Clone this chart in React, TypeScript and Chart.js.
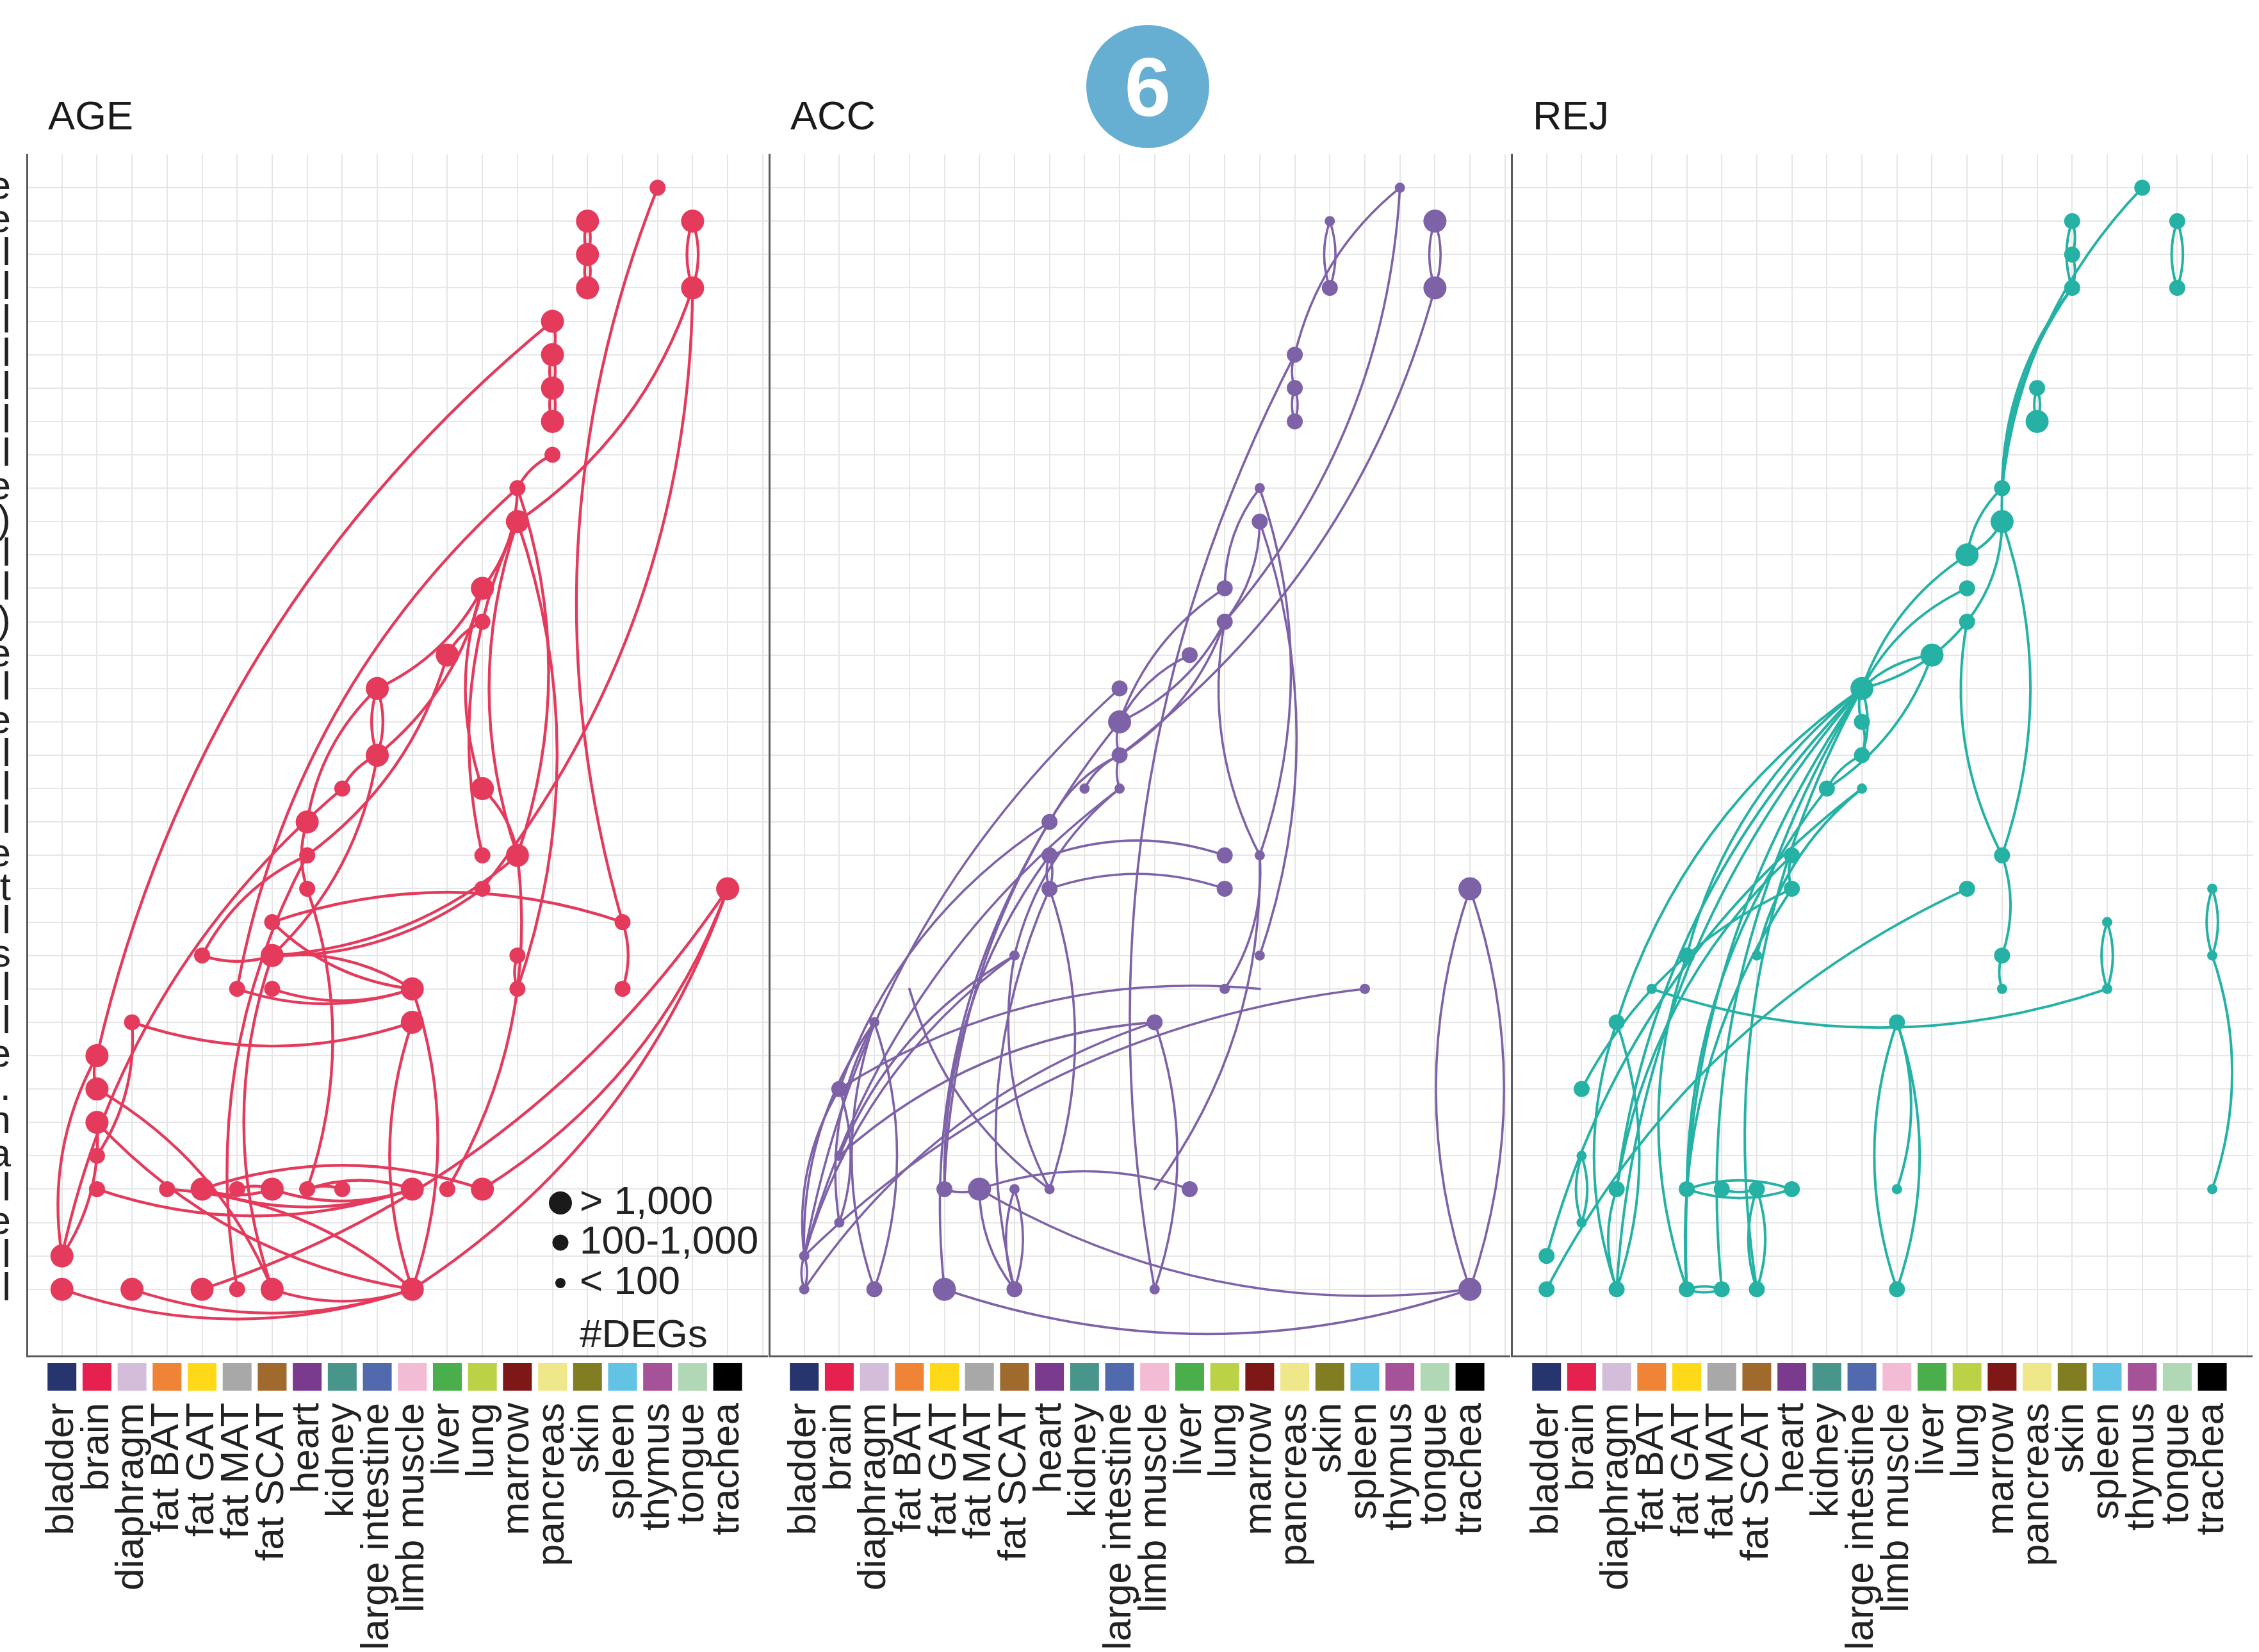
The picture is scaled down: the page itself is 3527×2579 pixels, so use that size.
import React, { useEffect, useRef } from 'react';
import { Chart, registerables } from 'chart.js';

Chart.register(...registerables);

const FONT = '"Liberation Sans", Arial, Helvetica, sans-serif';

// ---------------- data ----------------
const TISSUES = [
  'bladder', 'brain', 'diaphragm', 'fat BAT', 'fat GAT', 'fat MAT', 'fat SCAT', 'heart', 'kidney',
  'large intestine', 'limb muscle', 'liver', 'lung', 'marrow', 'pancreas', 'skin', 'spleen', 'thymus',
  'tongue', 'trachea',
];
const TISSUE_COLORS = [
  '#27356F', '#E6214F', '#D3BDDA', '#EF8336', '#FFD818', '#A8A8A8', '#A06A2C', '#7A3A8E', '#48958B',
  '#5169AD', '#F4BBD4', '#4AAE4A', '#BBD247', '#7E1817', '#F0E68A', '#807D22', '#62C3E5', '#A65298',
  '#B1D8B5', '#000000',
];
// visible (clipped) ends of the row labels, top row first
const ROW_LABELS = [
  'e', 'e', 'l', 'l', 'l', 'l', 'l', 'l', 'l', 'e', ')', 'l', 'l', ')', 'e', 'l', 'e',
  'l', 'l', 'l', 'e', 't', 'l', 's', 'l', 'l', 'e', '.', 'n', 'a', 'l', 'e', 'l', 'l',
];
const PANEL_TITLES = ['AGE', 'ACC', 'REJ'];
const SIZE_LABELS = ['> 1,000', '100-1,000', '< 100'];
const SIZE_TITLE = '#DEGs';
const BADGE = '6';

// node: [tissue index, row (0 = top), size class 0 <100, 1 100-1000, 2 >1000, 3 no dot]
type Node = [number, number, number];
// edge: [tissue, row, tissue, row, side the arc bows to]
type Edge = [number, number, number, number, string];

const AGE_NODES: Node[] = [
  [17, 0, 1], [15, 1, 2], [15, 2, 2], [15, 3, 2], [18, 1, 2], [18, 3, 2],
  [14, 4, 2], [14, 5, 2], [14, 6, 2], [14, 7, 2], [14, 8, 1],
  [13, 9, 1], [13, 10, 2], [12, 12, 2], [12, 13, 1], [11, 14, 2],
  [9, 15, 2], [9, 17, 2], [8, 18, 1], [12, 18, 2],
  [7, 19, 2], [7, 20, 1], [12, 20, 1], [13, 20, 2],
  [7, 21, 1], [12, 21, 1], [19, 21, 2], [6, 22, 1], [16, 22, 1],
  [4, 23, 1], [6, 23, 2], [13, 23, 1],
  [5, 24, 1], [6, 24, 1], [10, 24, 2], [13, 24, 1], [16, 24, 1],
  [2, 25, 1], [10, 25, 2], [1, 26, 2], [1, 27, 2], [1, 28, 2], [1, 29, 1],
  [1, 30, 1], [3, 30, 1], [4, 30, 2], [5, 30, 1], [6, 30, 2], [7, 30, 1], [8, 30, 1],
  [10, 30, 2], [11, 30, 1], [12, 30, 2],
  [0, 32, 2], [0, 33, 2], [2, 33, 2], [4, 33, 2], [5, 33, 1], [6, 33, 2], [10, 33, 2],
];
const AGE_EDGES: Edge[] = [
  [17, 0, 16, 22, 'L'],
  [15, 1, 15, 2, 'L'], [15, 1, 15, 2, 'R'], [15, 2, 15, 3, 'L'], [15, 2, 15, 3, 'R'],
  [18, 1, 18, 3, 'L'], [18, 1, 18, 3, 'R'],
  [18, 3, 13, 10, 'R'], [18, 3, 12, 21, 'R'],
  [14, 4, 14, 5, 'R'], [14, 5, 14, 6, 'L'], [14, 5, 14, 6, 'R'], [14, 6, 14, 7, 'L'], [14, 6, 14, 7, 'R'],
  [14, 4, 1, 26, 'U'], [13, 10, 13, 24, 'R'],
  [14, 8, 13, 9, 'U'], [13, 9, 5, 24, 'U'], [13, 9, 12, 12, 'R'],
  [13, 9, 13, 20, 'R'], [13, 10, 13, 20, 'L'],
  [12, 12, 12, 18, 'L'], [12, 12, 9, 17, 'R'], [9, 15, 12, 12, 'D'], [11, 14, 12, 13, 'U'],
  [9, 15, 9, 17, 'L'], [9, 15, 9, 17, 'R'], [9, 17, 8, 18, 'U'],
  [11, 14, 7, 20, 'R'], [7, 19, 7, 21, 'L'], [9, 15, 7, 19, 'L'], [9, 17, 6, 23, 'R'],
  [12, 18, 13, 20, 'R'], [13, 20, 6, 23, 'D'], [12, 21, 6, 23, 'D'], [12, 20, 13, 10, 'L'],
  [13, 23, 13, 24, 'L'], [6, 22, 16, 22, 'U'], [16, 22, 16, 24, 'R'],
  [6, 22, 10, 24, 'D'], [6, 23, 10, 24, 'U'], [5, 24, 10, 24, 'D'], [6, 24, 10, 24, 'D'],
  [4, 23, 6, 23, 'D'], [7, 20, 4, 23, 'U'], [2, 25, 10, 25, 'D'],
  [10, 25, 10, 33, 'L'], [10, 24, 10, 33, 'R'], [7, 21, 7, 30, 'R'], [6, 23, 6, 33, 'L'],
  [19, 21, 4, 33, 'D'], [19, 21, 10, 33, 'D'], [19, 21, 12, 30, 'R'],
  [0, 33, 10, 33, 'D'], [2, 33, 10, 33, 'D'], [6, 33, 10, 33, 'D'],
  [1, 30, 10, 30, 'D'], [4, 30, 10, 30, 'D'], [4, 30, 12, 30, 'U'], [4, 30, 6, 30, 'D'],
  [6, 30, 10, 30, 'D'], [7, 30, 10, 30, 'U'], [7, 30, 8, 30, 'U'], [5, 30, 6, 30, 'U'],
  [1, 28, 10, 33, 'D'], [3, 30, 10, 33, 'U'], [5, 33, 7, 20, 'L'],
  [0, 32, 1, 26, 'L'], [0, 32, 1, 28, 'R'], [0, 32, 8, 18, 'U'],
  [1, 26, 1, 27, 'L'], [1, 27, 6, 33, 'R'], [1, 29, 2, 25, 'R'], [13, 20, 11, 30, 'R'],
];

const ACC_NODES: Node[] = [
  [17, 0, 0], [15, 1, 0], [15, 3, 1], [18, 1, 2], [18, 3, 2],
  [14, 5, 1], [14, 6, 1], [14, 7, 1], [13, 9, 0], [13, 10, 1],
  [12, 12, 1], [12, 13, 1], [11, 14, 1],
  [9, 15, 1], [9, 16, 2], [9, 17, 1], [9, 18, 0], [8, 18, 0],
  [7, 19, 1], [7, 20, 1], [7, 21, 1], [12, 20, 1], [12, 21, 1],
  [13, 20, 0], [13, 23, 0], [6, 23, 0], [12, 24, 0], [16, 24, 0], [13, 24, 3],
  [3, 24, 3], [2, 25, 0], [10, 25, 1],
  [1, 27, 1], [1, 29, 0], [1, 31, 0],
  [4, 30, 1], [5, 30, 2], [6, 30, 0], [7, 30, 0], [10, 30, 3], [11, 30, 1],
  [0, 32, 0], [0, 33, 0], [2, 33, 1], [4, 33, 2], [6, 33, 1], [10, 33, 0],
  [19, 21, 2], [19, 33, 2],
];
const ACC_EDGES: Edge[] = [
  [17, 0, 14, 5, 'U'], [14, 5, 10, 33, 'L'], [17, 0, 12, 13, 'R'], [18, 3, 9, 17, 'R'],
  [15, 1, 15, 3, 'L'], [15, 1, 15, 3, 'R'], [18, 1, 18, 3, 'L'], [18, 1, 18, 3, 'R'],
  [14, 5, 14, 6, 'L'], [14, 6, 14, 7, 'L'], [14, 6, 14, 7, 'R'],
  [13, 9, 13, 20, 'R'], [13, 10, 13, 23, 'R'], [12, 13, 13, 20, 'L'],
  [13, 20, 12, 24, 'R'], [13, 20, 10, 30, 'R'],
  [13, 9, 12, 12, 'L'], [13, 10, 12, 13, 'R'],
  [12, 12, 9, 16, 'U'], [12, 13, 9, 16, 'D'], [11, 14, 9, 16, 'U'], [12, 13, 9, 17, 'D'],
  [9, 15, 0, 32, 'U'], [9, 16, 4, 30, 'L'], [9, 16, 9, 17, 'L'], [9, 17, 9, 18, 'L'],
  [9, 17, 8, 18, 'U'], [9, 18, 0, 32, 'U'], [7, 19, 9, 17, 'U'], [7, 19, 1, 27, 'U'],
  [7, 20, 12, 20, 'U'], [7, 21, 12, 21, 'U'], [7, 20, 7, 21, 'L'], [7, 20, 7, 21, 'R'],
  [7, 21, 7, 30, 'R'], [6, 23, 7, 30, 'L'], [4, 30, 7, 20, 'L'], [7, 21, 6, 33, 'L'],
  [6, 23, 1, 29, 'U'], [6, 23, 0, 32, 'U'], [6, 23, 9, 18, 'U'], [3, 24, 7, 30, 'D'],
  [2, 25, 2, 33, 'L'], [2, 25, 2, 33, 'R'], [2, 25, 1, 31, 'L'], [1, 27, 1, 31, 'R'],
  [1, 27, 13, 24, 'U'], [1, 29, 10, 25, 'U'], [0, 32, 16, 24, 'U'],
  [0, 32, 2, 25, 'L'], [0, 32, 1, 27, 'L'], [0, 32, 0, 33, 'L'], [0, 32, 0, 33, 'R'],
  [4, 30, 5, 30, 'D'], [5, 30, 11, 30, 'U'], [5, 30, 19, 33, 'D'], [4, 33, 19, 33, 'D'],
  [5, 30, 6, 33, 'L'], [6, 30, 6, 33, 'L'], [6, 30, 6, 33, 'R'],
  [19, 21, 19, 33, 'L'], [19, 21, 19, 33, 'R'],
  [10, 25, 10, 33, 'R'], [10, 25, 0, 33, 'U'], [4, 33, 7, 19, 'L'],
];

const REJ_NODES: Node[] = [
  [17, 0, 1], [15, 1, 1], [15, 2, 1], [15, 3, 1], [18, 1, 1], [18, 3, 1],
  [14, 6, 1], [14, 7, 2], [13, 9, 1], [13, 10, 2],
  [12, 11, 2], [12, 12, 1], [12, 13, 1], [11, 14, 2],
  [9, 15, 2], [9, 16, 1], [9, 17, 1], [9, 18, 0], [8, 18, 1],
  [7, 20, 1], [7, 21, 1], [12, 21, 1], [13, 20, 1],
  [4, 23, 1], [6, 23, 0], [13, 23, 1], [13, 24, 0],
  [16, 22, 0], [16, 24, 0], [19, 21, 0], [19, 23, 0], [3, 24, 0],
  [2, 25, 1], [10, 25, 1], [1, 27, 1], [1, 29, 0], [1, 31, 0],
  [2, 30, 1], [4, 30, 1], [5, 30, 1], [6, 30, 1], [7, 30, 1], [10, 30, 0], [19, 30, 0],
  [0, 32, 1], [0, 33, 1], [2, 33, 1], [4, 33, 1], [5, 33, 1], [6, 33, 1], [10, 33, 1],
];
const REJ_EDGES: Edge[] = [
  [17, 0, 13, 9, 'U'], [15, 3, 13, 9, 'U'], [15, 3, 13, 10, 'U'],
  [15, 1, 15, 3, 'L'], [15, 1, 15, 2, 'R'], [15, 2, 15, 3, 'R'],
  [18, 1, 18, 3, 'L'], [18, 1, 18, 3, 'R'], [14, 6, 14, 7, 'L'], [14, 6, 14, 7, 'R'],
  [13, 9, 12, 11, 'U'], [13, 10, 12, 11, 'D'], [13, 10, 12, 13, 'R'],
  [13, 10, 13, 20, 'R'], [12, 13, 13, 20, 'L'], [13, 20, 13, 23, 'R'], [13, 23, 13, 24, 'L'],
  [16, 22, 16, 24, 'L'], [16, 22, 16, 24, 'R'], [19, 21, 19, 23, 'L'], [19, 21, 19, 23, 'R'],
  [19, 23, 19, 30, 'R'],
  [12, 11, 9, 15, 'U'], [12, 12, 9, 15, 'U'], [12, 13, 9, 15, 'D'], [11, 14, 9, 15, 'U'],
  [11, 14, 8, 18, 'D'], [9, 15, 9, 16, 'L'], [9, 16, 9, 17, 'R'], [9, 15, 9, 17, 'R'],
  [9, 15, 2, 25, 'U'], [9, 15, 2, 33, 'U'], [9, 15, 4, 33, 'U'], [9, 15, 5, 33, 'L'],
  [9, 15, 4, 23, 'U'], [9, 15, 6, 33, 'L'], [9, 17, 8, 18, 'L'],
  [8, 18, 4, 30, 'L'], [7, 20, 7, 21, 'L'], [7, 21, 4, 33, 'U'], [7, 20, 2, 30, 'U'],
  [0, 33, 12, 21, 'U'], [0, 32, 9, 18, 'U'], [1, 27, 7, 21, 'U'],
  [1, 29, 1, 31, 'L'], [1, 29, 1, 31, 'R'], [2, 25, 2, 33, 'L'], [2, 25, 2, 33, 'R'],
  [2, 30, 2, 33, 'L'], [2, 30, 9, 15, 'L'], [4, 23, 4, 33, 'L'],
  [4, 30, 7, 30, 'U'], [4, 30, 7, 30, 'D'], [5, 30, 6, 30, 'D'],
  [6, 30, 6, 33, 'L'], [6, 30, 6, 33, 'R'], [4, 33, 5, 33, 'U'], [4, 33, 5, 33, 'D'],
  [3, 24, 16, 24, 'D'], [10, 25, 10, 33, 'L'], [10, 25, 10, 33, 'R'], [10, 25, 10, 30, 'R'],
  [6, 23, 9, 18, 'L'],
];

const PANEL_DATA = [
  { nodes: AGE_NODES, edges: AGE_EDGES, color: '#E43A5C', lineWidth: 4.4 },
  { nodes: ACC_NODES, edges: ACC_EDGES, color: '#7E62A8', lineWidth: 3.6 },
  { nodes: REJ_NODES, edges: REJ_EDGES, color: '#25B2A5', lineWidth: 4.0 },
];

// ---------------- layout / style ----------------
const PAGE_W = 3527;
const PAGE_H = 2579;
const PLOT_TOP = 241;
const PLOT_W = 1157;
const X_AXIS_H = 462;
const PANEL_GEO = [
  { left: 0, axisW: 42 },
  { left: 1197, axisW: 4 },
  { left: 2356, axisW: 4 },
];
const NODE_RADII = [8, 12.5, 18, 1.5];
const BEND = 0.17;
const NROW = ROW_LABELS.length;
const GRID = { color: '#E6E6E6', lineWidth: 2, drawTicks: false };
const BORDER = { display: true, color: '#5A5A5A', width: 3 };

const rowValue = (t: number) => NROW - t;

function Panel({ index }: { index: number }) {
  const ref = useRef<HTMLCanvasElement>(null);
  const geo = PANEL_GEO[index];
  useEffect(() => {
    const { nodes, edges, color, lineWidth } = PANEL_DATA[index];
    const showY = index === 0;

    const edgePlugin = {
      id: 'edges' + index,
      beforeDatasetsDraw(chart: any) {
        const { ctx } = chart;
        const xs = chart.scales.x;
        const ys = chart.scales.y;
        ctx.save();
        ctx.strokeStyle = color;
        ctx.lineWidth = lineWidth;
        ctx.lineCap = 'round';
        const dirs: Record<string, number[]> = { U: [0, -1], D: [0, 1], L: [-1, 0], R: [1, 0] };
        for (const [c1, t1, c2, t2, side] of edges) {
          const x1 = xs.getPixelForValue(c1 + 1);
          const y1 = ys.getPixelForValue(rowValue(t1));
          const x2 = xs.getPixelForValue(c2 + 1);
          const y2 = ys.getPixelForValue(rowValue(t2));
          const dx = x2 - x1;
          const dy = y2 - y1;
          const len = Math.hypot(dx, dy) || 1;
          let nx = -dy / len;
          let ny = dx / len;
          const d = dirs[side];
          if (nx * d[0] + ny * d[1] < 0) {
            nx = -nx;
            ny = -ny;
          }
          const cx = (x1 + x2) / 2 + nx * BEND * len;
          const cy = (y1 + y2) / 2 + ny * BEND * len;
          ctx.beginPath();
          ctx.moveTo(x1, y1);
          ctx.quadraticCurveTo(cx, cy, x2, y2);
          ctx.stroke();
        }
        ctx.restore();
      },
    };

    const overlayPlugin = {
      id: 'overlay' + index,
      afterDraw(chart: any) {
        const { ctx, chartArea } = chart;
        const xs = chart.scales.x;
        ctx.save();
        TISSUES.forEach((name, i) => {
          const px = xs.getPixelForValue(i + 1);
          ctx.fillStyle = TISSUE_COLORS[i];
          ctx.fillRect(px - 22.5, chartArea.bottom + 11, 45, 43);
          ctx.save();
          ctx.translate(px, chartArea.bottom + 73);
          ctx.rotate(-Math.PI / 2);
          ctx.font = `62px ${FONT}`;
          ctx.fillStyle = '#222222';
          ctx.textAlign = 'right';
          ctx.textBaseline = 'middle';
          ctx.fillText(name, 0, 0);
          ctx.restore();
        });
        ctx.font = `63px ${FONT}`;
        ctx.fillStyle = '#1A1A1A';
        ctx.textAlign = 'left';
        ctx.textBaseline = 'alphabetic';
        ctx.fillText(PANEL_TITLES[index], chartArea.left + 33, 202);

        if (index === 0) {
          const lx = chartArea.left + 833;
          const ly = [1878, 1940, 2003];
          const radii = [NODE_RADII[2], NODE_RADII[1], NODE_RADII[0]];
          ctx.font = `62px ${FONT}`;
          ctx.textBaseline = 'middle';
          SIZE_LABELS.forEach((lab, i) => {
            ctx.fillStyle = '#1A1A1A';
            ctx.beginPath();
            ctx.arc(lx, ly[i], radii[i], 0, Math.PI * 2);
            ctx.fill();
            ctx.fillStyle = '#222222';
            ctx.fillText(lab, lx + 30, ly[i]);
          });
          ctx.textBaseline = 'alphabetic';
          ctx.fillText(SIZE_TITLE, lx + 30, 2103);
        }
        if (index === 1) {
          const bx = chartArea.left + 591;
          const by = 135;
          ctx.fillStyle = '#67AED3';
          ctx.beginPath();
          ctx.arc(bx, by, 96, 0, Math.PI * 2);
          ctx.fill();
          ctx.fillStyle = '#FFFFFF';
          ctx.font = `bold 130px ${FONT}`;
          ctx.textAlign = 'center';
          ctx.textBaseline = 'alphabetic';
          ctx.fillText(BADGE, bx, by + 46);
        }
        ctx.restore();
      },
    };

    const chart = new Chart(ref.current as HTMLCanvasElement, {
      type: 'scatter',
      data: {
        datasets: [0, 1, 2, 3].map((sz) => ({
          data: nodes.filter((n) => n[2] === sz).map((n) => ({ x: n[0] + 1, y: rowValue(n[1]) })),
          pointRadius: NODE_RADII[sz],
          pointHoverRadius: NODE_RADII[sz],
          pointBackgroundColor: color,
          pointBorderColor: color,
          pointBorderWidth: 0,
          showLine: false,
          clip: false,
        })),
      },
      options: {
        animation: false,
        responsive: false,
        devicePixelRatio: 1,
        events: [],
        layout: { autoPadding: false, padding: { top: PLOT_TOP, right: 0, bottom: 0, left: 0 } },
        plugins: { legend: { display: false }, tooltip: { enabled: false }, title: { display: false } },
        scales: {
          x: {
            type: 'linear',
            min: 0,
            max: 21.15,
            afterBuildTicks: (s: any) => {
              s.ticks = Array.from({ length: TISSUES.length + 1 }, (_, i) => ({ value: i + 1 }));
            },
            afterFit: (s: any) => {
              s.height = X_AXIS_H;
            },
            ticks: { display: false },
            grid: GRID,
            border: BORDER,
          },
          y: {
            type: 'linear',
            min: -1,
            max: NROW + 1,
            afterBuildTicks: (s: any) => {
              s.ticks = ROW_LABELS.map((_, i) => ({ value: i + 1 }));
            },
            afterFit: (s: any) => {
              s.width = geo.axisW;
            },
            ticks: {
              display: showY,
              autoSkip: false,
              padding: 25,
              color: '#222222',
              font: { size: 62, family: FONT },
              callback: (v: any) => ROW_LABELS[NROW - Number(v)] ?? '',
            },
            grid: GRID,
            border: BORDER,
          },
        },
      } as any,
      plugins: [edgePlugin, overlayPlugin],
    });
    return () => chart.destroy();
  }, []);
  return (
    <canvas
      ref={ref}
      width={geo.axisW + PLOT_W}
      height={PAGE_H}
      style={{ position: 'absolute', left: geo.left, top: 0 }}
    />
  );
}

export default function App() {
  return (
    <div
      style={{
        position: 'fixed',
        left: 0,
        top: 0,
        width: PAGE_W,
        height: PAGE_H,
        overflow: 'hidden',
        background: '#FFFFFF',
      }}
    >
      {PANEL_DATA.map((_, i) => (
        <Panel key={i} index={i} />
      ))}
    </div>
  );
}
